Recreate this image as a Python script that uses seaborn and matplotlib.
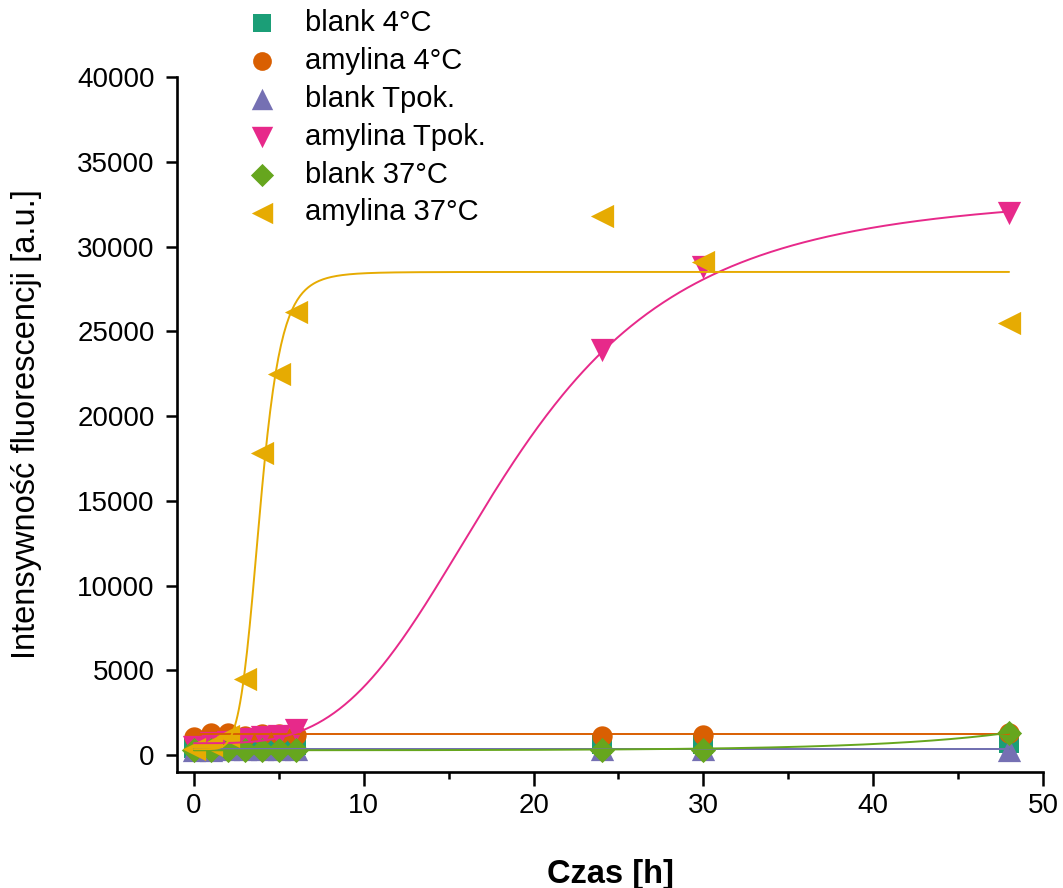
import numpy as np
import pandas as pd
import matplotlib
matplotlib.use("Agg")
import matplotlib.pyplot as plt
from matplotlib.ticker import MultipleLocator
import seaborn as sns

# Measurement times [h]
czas = [0, 1, 2, 3, 4, 5, 6, 24, 30, 48]

# Fluorescence intensity [a.u.] for each sample
blank_4C = [400, 450, 500, 500, 550, 550, 600, 650, 650, 700]
amylina_4C = [1050, 1300, 1300, 1100, 1250, 1250, 1200, 1100, 1200, 1300]
blank_Tpok = [300, 320, 330, 330, 330, 340, 340, 330, 340, 320]
amylina_Tpok = [450, 700, 800, 950, 1050, 1100, 1500, 23900, 28800, 32000]
blank_37C = [280, 290, 300, 290, 300, 290, 300, 280, 320, 1300]
amylina_37C = [350, 600, 1100, 4500, 17800, 22500, 26150, 31800, 29100, 25500]

labels = ["blank 4°C", "amylina 4°C", "blank Tpok.", "amylina Tpok.",
          "blank 37°C", "amylina 37°C"]
series = [blank_4C, amylina_4C, blank_Tpok, amylina_Tpok, blank_37C, amylina_37C]
colors = ["#1b9e77", "#d95f02", "#7570b3", "#e7298a", "#66a61e", "#e6ab02"]
markers = ["s", "o", "^", "v", "D", "<"]
marker_area = [190, 215, 280, 280, 165, 280]

# Fitted model parameters
# constant levels
lvl_blank_4C = 350
lvl_amylina_4C = 1250
lvl_blank_Tpok = 350
# Hill (log-logistic) growth: A1 + (A2 - A1) * x^n / (k^n + x^n)
hill_Tpok = dict(A1=700, A2=33200, k=18.6, n=3.5)
hill_37C = dict(A1=350, A2=28500, k=3.89, n=6.2)
# exponential drift: y0 + A * exp(x / t)
exp_37C = dict(y0=280, A=2.2, t=7.8)


def hill(x, A1, A2, k, n):
    return A1 + (A2 - A1) * x ** n / (k ** n + x ** n)


xf = np.linspace(0, 48, 600)
fits = [
    np.full_like(xf, lvl_blank_4C),
    np.full_like(xf, lvl_amylina_4C),
    np.full_like(xf, lvl_blank_Tpok),
    hill(xf, **hill_Tpok),
    exp_37C["y0"] + exp_37C["A"] * np.exp(xf / exp_37C["t"]),
    hill(xf, **hill_37C),
]

sns.set_theme(style="ticks")
plt.rcParams["font.family"] = ["Liberation Sans", "DejaVu Sans"]
plt.rcParams["text.color"] = "black"
plt.rcParams["axes.labelcolor"] = "black"
plt.rcParams["xtick.color"] = "black"
plt.rcParams["ytick.color"] = "black"

fig = plt.figure(figsize=(10.63, 8.88), dpi=100)
ax = fig.add_axes([0.1665, 0.1306, 0.8147, 0.7827])

for name, vals, c, m, s in zip(labels, series, colors, markers, marker_area):
    df = pd.DataFrame({"Czas": czas, "I": vals})
    sns.scatterplot(data=df, x="Czas", y="I", marker=m, color=c, s=s,
                    linewidth=0, ax=ax, label=name)

for name, yf, c in zip(labels, fits, colors):
    dff = pd.DataFrame({"Czas": xf, "I": yf})
    sns.lineplot(data=dff, x="Czas", y="I", color=c, lw=1.4, ax=ax,
                 legend=False, sort=False)

ax.set_xlim(-1, 50)
ax.set_ylim(-1000, 40000)
ax.xaxis.set_major_locator(MultipleLocator(10))
ax.xaxis.set_minor_locator(MultipleLocator(5))
ax.yaxis.set_major_locator(MultipleLocator(5000))

for side in ("top", "right"):
    ax.spines[side].set_visible(False)
for side in ("left", "bottom"):
    ax.spines[side].set_linewidth(1.9)
    ax.spines[side].set_color("black")

ax.tick_params(axis="x", which="major", direction="out", length=10, width=1.8,
               pad=5, labelsize=20)
ax.tick_params(axis="x", which="minor", direction="out", length=5, width=1.8)
ax.tick_params(axis="y", which="major", direction="out", length=8, width=1.8,
               pad=8, labelsize=20)

ax.set_xlabel("Czas [h]", fontsize=23.5, fontweight="bold")
ax.set_ylabel("Intensywność fluorescencji [a.u.]", fontsize=23.5)
ax.xaxis.set_label_coords(0.5, -0.125)
ax.yaxis.set_label_coords(-0.156, 0.5)

handles, hlabels = ax.get_legend_handles_labels()
if ax.legend_:
    ax.legend_.remove()
fig.legend(handles, hlabels, loc="upper left", bbox_to_anchor=(0.2307, 0.99),
           frameon=False, fontsize=21, borderpad=0, borderaxespad=0,
           handlelength=1.15, handletextpad=0.9, labelspacing=0.34,
           markerscale=0.92)

fig.savefig("out.png", dpi=100)
